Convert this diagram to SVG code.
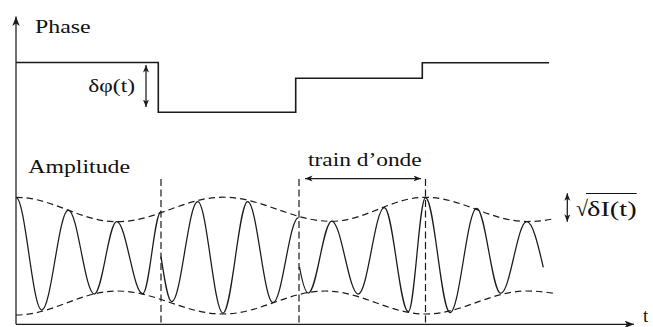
<svg xmlns="http://www.w3.org/2000/svg" width="653" height="327" viewBox="0 0 653 327">
<style>
.ln{fill:none;stroke:#1a1a1a;stroke-width:1.25}
.ph{fill:none;stroke:#1a1a1a;stroke-width:1.6}
.env{fill:none;stroke:#1a1a1a;stroke-width:1.2;stroke-dasharray:6.5 4}
.vd{fill:none;stroke:#1a1a1a;stroke-width:1.2;stroke-dasharray:7 3.5}
.tx{font-family:"Liberation Serif","Times New Roman",serif;font-size:19px;fill:#111}
</style>
<defs>
<marker id="ah" markerUnits="userSpaceOnUse" markerWidth="10" markerHeight="8" refX="9.5" refY="3.75" orient="auto-start-reverse">
<path d="M0,0 L9.5,3.75 L0,7.5 L2.5,3.75 Z" fill="#1a1a1a"/>
</marker>
<marker id="as" markerUnits="userSpaceOnUse" markerWidth="8" markerHeight="7" refX="7.5" refY="3" orient="auto-start-reverse">
<path d="M0,0 L7.5,3 L0,6 L2,3 Z" fill="#1a1a1a"/>
</marker>
</defs>
<g id="axes">
<line class="ln" x1="16" y1="324.3" x2="16" y2="16.5" marker-end="url(#ah)"/>
<line class="ln" x1="16" y1="324.3" x2="634" y2="324.3" marker-end="url(#ah)"/>
<text class="tx" x="643" y="322">t</text>
</g>
<g id="phase">
<text class="tx" x="35" y="33" textLength="55.7" lengthAdjust="spacingAndGlyphs">Phase</text>
<path class="ph" d="M16,62.5 H158.3 V112.3 H295.7 V78.3 H422.3 V62.7 H549"/>
<line class="ln" x1="146" y1="65" x2="146" y2="107" marker-start="url(#as)" marker-end="url(#as)"/>
<text class="tx" x="88.3" y="92" textLength="46.7" lengthAdjust="spacingAndGlyphs">δφ(t)</text>
</g>
<g id="amplitude">
<text class="tx" x="28.3" y="173" textLength="101.7" lengthAdjust="spacingAndGlyphs">Amplitude</text>
</g>
<g id="connectors">
<line class="vd" x1="161" y1="179" x2="161" y2="324.3"/>
<line class="vd" x1="299" y1="179" x2="299" y2="324.3"/>
<line class="vd" x1="425.5" y1="179" x2="425.5" y2="324.3"/>
<line class="ln" x1="305" y1="178.5" x2="421" y2="178.5" marker-start="url(#as)" marker-end="url(#as)"/>
<line class="ln" x1="567.3" y1="193.3" x2="567.3" y2="221.7" marker-start="url(#as)" marker-end="url(#as)"/>
</g>
<g id="train">
<text class="tx" x="308" y="165.5" textLength="113.7" lengthAdjust="spacingAndGlyphs">train d’onde</text>
</g>
<g id="sqrt">
<text class="tx" x="576" y="216" style="font-size:22px">√</text>
<line x1="586" y1="193.5" x2="636.7" y2="193.5" stroke="#111" stroke-width="1.1"/>
<text class="tx" x="587" y="216" textLength="49.7" lengthAdjust="spacingAndGlyphs" style="font-size:20px">δI(t)</text>
</g>
<g id="envelopes">
<path class="env" d="M16,197.3 C52.76,197.3 80.24,221.7 117,221.7 C155.58,221.7 184.42,197.2 223,197.2 C262.31,197.2 291.69,221.3 331,221.3 C365.4,221.3 391.1,197.3 425.5,197.3 C462.45,197.3 490.05,221.5 527,221.5 C537,221.5 546,220.5 555,218.5"/>
<path class="env" d="M16,315 C52.76,315 80.24,291 117,291 C155.58,291 184.42,314 223,314 C260.13,314 287.87,291 325,291 C361.58,291 388.92,314 425.5,314 C462.45,314 490.05,291 527,291 C537,291 546,292 555,293.5"/>
</g>
<g id="wave">
<path class="ln" d="M16,197.3 C25.35,197.3 32.35,310 41.7,310 C51.38,310 58.62,210 68.3,210 C77.76,210 84.84,294 94.3,294 C102.45,294 108.55,221.7 116.7,221.7 C126.16,221.7 133.24,293.7 142.7,293.7 C149.36,293.7 154.34,211.5 161,211.5"/>
<path class="ln" d="M161,256.7 C164.49,279.74 167.88,301.7 171.7,301.7 C181.16,301.7 188.24,201.7 197.7,201.7 C206.91,201.7 213.79,313 223,313 C231.99,313 238.71,201.7 247.7,201.7 C256.91,201.7 263.79,302.7 273,302.7 C282.28,302.7 289.22,217.5 298.5,217.5"/>
<path class="ln" d="M299.5,267 C302.3,282 304.9,293 308.3,293 C316.82,293 323.18,221 331.7,221 C341.38,221 348.62,294 358.3,294 C367.76,294 374.84,207.7 384.3,207.7 C393.04,207.7 399.56,311.7 408.3,311.7 C414.56,311.7 419.24,197.5 425.5,197.5 C434.42,197.5 441.08,312.7 450,312.7 C459.72,312.7 466.98,208.3 476.7,208.3 C485.44,208.3 491.96,293.3 500.7,293.3 C510.16,293.3 517.24,221.7 526.7,221.7 C532.63,221.7 537.89,243.95 543.3,267.3"/>
</g>
</svg>
